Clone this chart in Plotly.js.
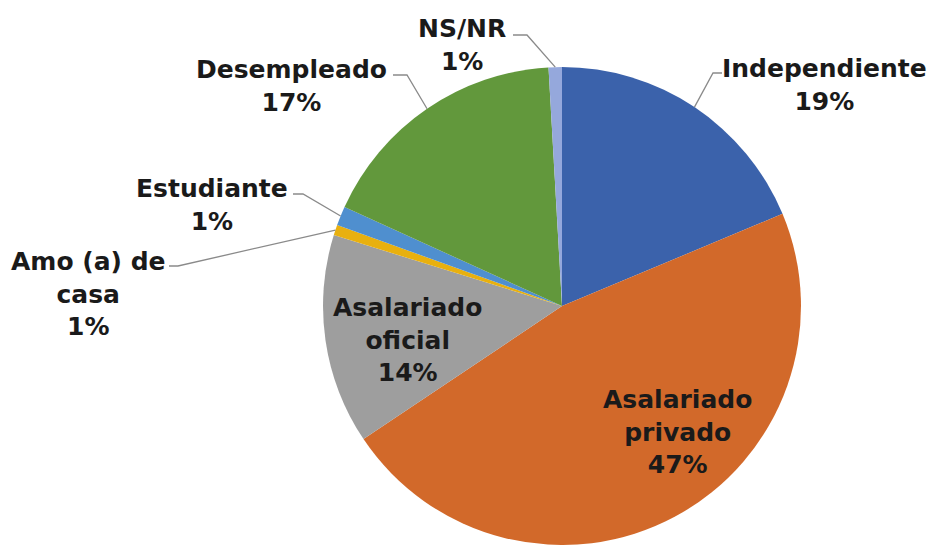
<!DOCTYPE html>
<html>
<head>
<meta charset="utf-8">
<script src="https://cdn.plot.ly/plotly-3.0.1.min.js"></script>
<style>html,body{margin:0;padding:0;background:#fff;}#chart{width:929px;height:545px;}</style>
</head>
<body>
<div id="chart"></div>
<script>
// ---- data ----
var categories = ['Independiente', 'Asalariado privado', 'Asalariado oficial', 'Amo (a) de casa', 'Estudiante', 'Desempleado', 'NS/NR'];
var displayLabels = ['Independiente', 'Asalariado<br>privado', 'Asalariado<br>oficial', 'Amo (a) de<br>casa', 'Estudiante', 'Desempleado', 'NS/NR'];
var values = [18.7, 46.9, 14.2, 0.7, 1.3, 17.3, 0.9];
var colors = ['#3B62AB', '#D2692A', '#9E9E9E', '#E8B00F', '#4F8FCF', '#62983C', '#95A8DC'];

// ---- layout constants ----
var W = 929, H = 545;
var domX = [323 / W, 801 / W], domY = [0, 0.877];
// label block centres (px) and leader elbow/end points (px); null = inside label
var labelPos = [[824, 85], [677, 432], [407, 340], [88, 294], [212, 205], [291, 86], [462, 45]];
var leaderEnds = [[[713, 73], [722, 73]], null, null, [[178, 266], [169, 266]], [[303, 194], [293, 194]], [[407, 75], [393, 75]], [[527, 35], [513, 35]]];

var cx = W * (domX[0] + domX[1]) / 2;
var cy = H * (1 - (domY[0] + domY[1]) / 2);
var r = Math.min(W * (domX[1] - domX[0]), H * (domY[1] - domY[0])) / 2;

var total = values.reduce(function (a, b) { return a + b; }, 0);
function px2x(p) { return p / W; }
function px2y(p) { return 1 - p / H; }

var annotations = [], shapes = [];
var cum = 0;
for (var i = 0; i < values.length; i++) {
  var mid = (cum + values[i] / 2) / total * 2 * Math.PI;
  cum += values[i];
  var pct = Math.round(values[i] / total * 100) + '%';
  annotations.push({
    xref: 'paper', yref: 'paper',
    x: px2x(labelPos[i][0]), y: px2y(labelPos[i][1]),
    xanchor: 'center', yanchor: 'middle', align: 'center',
    showarrow: false,
    text: displayLabels[i] + '<br>' + pct,
    font: {family: 'DejaVu Sans', size: 25, color: '#1a1a1a', weight: 'bold'}
  });
  if (leaderEnds[i]) {
    var ex = cx + r * Math.sin(mid), ey = cy - r * Math.cos(mid);
    var e1 = leaderEnds[i][0], e2 = leaderEnds[i][1];
    shapes.push({
      type: 'path', xref: 'paper', yref: 'paper',
      path: 'M ' + px2x(ex) + ' ' + px2y(ey) + ' L ' + px2x(e1[0]) + ' ' + px2y(e1[1]) + ' L ' + px2x(e2[0]) + ' ' + px2y(e2[1]),
      line: {color: '#8a8a8a', width: 1.3}
    });
  }
}

var trace = {
  type: 'pie',
  labels: categories,
  values: values,
  sort: false,
  direction: 'clockwise',
  rotation: 0,
  textinfo: 'none',
  hoverinfo: 'none',
  marker: {colors: colors, line: {width: 0}},
  domain: {x: domX, y: domY},
  showlegend: false
};

var layout = {
  width: W, height: H,
  margin: {l: 0, r: 0, t: 0, b: 0},
  paper_bgcolor: '#ffffff',
  showlegend: false,
  annotations: annotations,
  shapes: shapes
};

Plotly.newPlot('chart', [trace], layout, {staticPlot: true});
</script>
</body>
</html>
